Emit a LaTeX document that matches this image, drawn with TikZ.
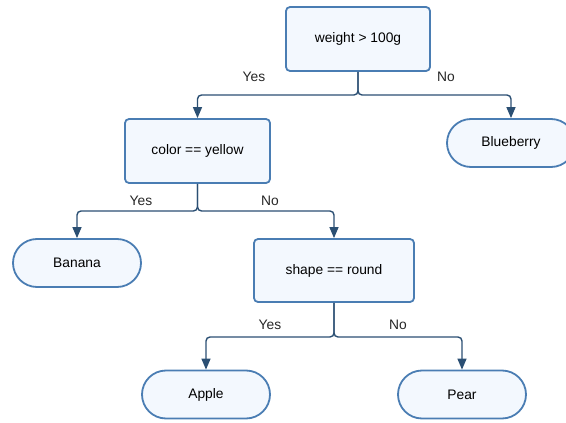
\documentclass[tikz,border=0pt]{standalone}
\usepackage{fontspec}
\setmainfont{Liberation Sans}
\usetikzlibrary{arrows.meta}
\definecolor{edgeblue}{HTML}{4A7DB3}
\definecolor{fillblue}{HTML}{F3F8FE}
\definecolor{linkblue}{HTML}{2B4F73}
\tikzset{
  decision/.style={draw=edgeblue, fill=fillblue, line width=1.8pt, rounded corners=4pt,
    minimum width=#1, minimum height=64pt, inner sep=0pt, font=\fontsize{13.8}{16}\selectfont},
  leaf/.style={draw=edgeblue, fill=fillblue, line width=1.8pt, rounded corners=24pt,
    minimum width=128pt, minimum height=48pt, inner sep=0pt, font=\fontsize{13.8}{16}\selectfont},
  link/.style={draw=linkblue, line width=1.4pt, rounded corners=4pt,
    -{Triangle[length=11pt,width=9pt]}},
  lbl/.style={font=\fontsize{13.8}{16}\selectfont, text=black!85}
}
\begin{document}
\begin{tikzpicture}[x=1pt,y=-1pt]
\useasboundingbox (0,0) rectangle (566,423);
% decision nodes
\node[decision=144pt] (root) at (358,39) {weight > 100g};
\node[decision=145pt] (color) at (197.5,151) {color == yellow};
\node[decision=160pt, minimum height=63pt] (shape) at (334,270.5) {shape == round};
% leaves
\node[leaf] (blue) at (511,143) {Blueberry};
\node[leaf] (banana) at (77,263) {Banana};
\node[leaf] (apple) at (206,394.5) {Apple};
\node[leaf] (pear) at (462,394.5) {Pear};
% branch points
\coordinate (j1) at (358,95);
\coordinate (j2) at (197.5,211);
\coordinate (j3) at (334,337);
% edges
\draw[link] (root.south) -- (j1) -| (color.north);
\draw[link] (root.south) -- (j1) -| (blue.north);
\draw[link] (color.south) -- (j2) -| (banana.north);
\draw[link] (color.south) -- (j2) -| (shape.north);
\draw[link] (shape.south) -- (j3) -| (apple.north);
\draw[link] (shape.south) -- (j3) -| (pear.north);
% edge labels
\node[lbl] (y1) at (254,77) {Yes};
\node[lbl] (n1) at (446,77) {No};
\node[lbl] (y2) at (141,201) {Yes};
\node[lbl] (n2) at (270,201) {No};
\node[lbl] (y3) at (270,325) {Yes};
\node[lbl] (n3) at (398,325) {No};
\end{tikzpicture}
\end{document}
